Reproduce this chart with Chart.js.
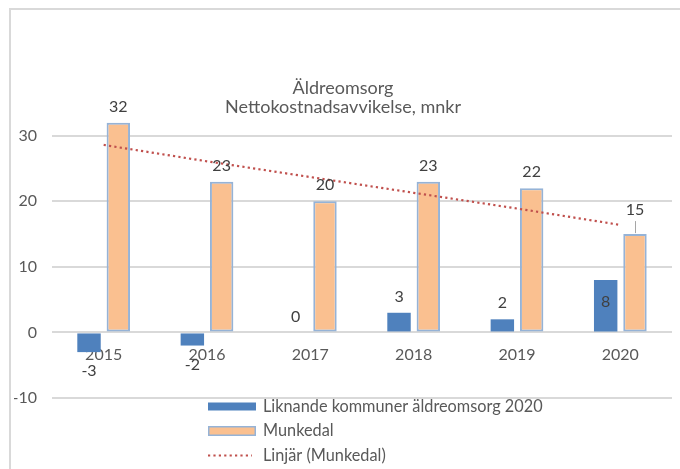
<!DOCTYPE html>
<html><head><meta charset="utf-8">
<script src="https://cdn.jsdelivr.net/npm/chart.js@4.4.1/dist/chart.umd.min.js"></script>
<style>
html,body{margin:0;padding:0;background:#fff;overflow:hidden;}
#wrap{position:relative;width:680px;height:469px;overflow:hidden;background:#fff;}
#frame{position:absolute;left:9px;top:8px;width:700px;height:500px;border-left:2px solid #D9D9D9;border-top:2px solid #D9D9D9;}
canvas{position:absolute;left:0;top:0;}
</style></head>
<body><div id="wrap"><div id="frame"></div><canvas id="c" width="680" height="469"></canvas></div>
<script>
// ---- data ----
const categories = ['2015', '2016', '2017', '2018', '2019', '2020'];
const liknandeValues = [-3, -2, 0, 3, 2, 8];
const munkedalValues = [32, 23, 20, 23, 22, 15];
const trendValues = [28.6, 26.1, 23.7, 21.3, 18.9, 16.4];
const seriesNames = ['Liknande kommuner äldreomsorg 2020', 'Munkedal', 'Linjär (Munkedal)'];
const titleLines = ['Äldreomsorg', 'Nettokostnadsavvikelse, mnkr'];
const yTickValues = [-10, 0, 10, 20, 30];

// label placement styles (not data)
const blueLabelInside = [false, false, false, false, false, true];
const orangeLabelCallout = [false, false, false, false, false, true];

const FONT = 'Lato';
Chart.defaults.font.family = FONT;

const barLabelPlugin = {
  id: 'barLabels',
  afterDatasetsDraw(chart) {
    const ctx = chart.ctx;
    ctx.save();
    ctx.font = '16px ' + FONT;
    ctx.fillStyle = '#404040';
    ctx.textAlign = 'center';
    ctx.textBaseline = 'middle';
    [0, 1].forEach(di => {
      const meta = chart.getDatasetMeta(di);
      const vals = chart.data.datasets[di].data;
      meta.data.forEach((el, i) => {
        const v = vals[i];
        const p = el.getProps(['x', 'y', 'base'], true);
        let ty;
        if (di === 0 && blueLabelInside[i]) {
          ty = (p.y + p.base) / 2 - 4;
        } else if (v < 0) {
          ty = p.y + 19;
        } else {
          ty = p.y - 16;
        }
        if (di === 1 && orangeLabelCallout[i]) {
          ty = p.y - 24;
          ctx.save();
          ctx.strokeStyle = '#A6A6A6';
          ctx.lineWidth = 1;
          ctx.beginPath();
          ctx.moveTo(Math.round(p.x) + 0.5, ty + 11);
          ctx.lineTo(Math.round(p.x) + 0.5, p.y - 1);
          ctx.stroke();
          ctx.restore();
        }
        ctx.fillText(String(v), p.x, ty);
      });
    });
    ctx.restore();
  }
};

const legendPlugin = {
  id: 'vlegend',
  afterDraw(chart) {
    const ctx = chart.ctx;
    const ds = chart.data.datasets;
    const x0 = 208, w = 48, tx = 263;
    const rows = [406.5, 431, 455.5];
    ctx.save();
    ctx.font = '16.3px ' + FONT;
    ctx.textBaseline = 'middle';
    ctx.textAlign = 'left';
    ctx.fillStyle = ds[0].backgroundColor;
    ctx.fillRect(x0, rows[0] - 4, w, 8);
    ctx.fillStyle = ds[1].backgroundColor;
    ctx.fillRect(x0, rows[1] - 5, w, 10);
    ctx.strokeStyle = ds[1].borderColor;
    ctx.lineWidth = 1.5;
    ctx.strokeRect(x0 + 0.75, rows[1] - 4.25, w - 1.5, 8.5);
    ctx.strokeStyle = ds[2].borderColor;
    ctx.lineWidth = ds[2].borderWidth;
    ctx.setLineDash(ds[2].borderDash);
    ctx.beginPath();
    ctx.moveTo(x0, rows[2]);
    ctx.lineTo(x0 + 44, rows[2]);
    ctx.stroke();
    ctx.setLineDash([]);
    ctx.fillStyle = '#595959';
    ds.forEach((d, i) => ctx.fillText(d.label, tx, rows[i]));
    ctx.restore();
  }
};

new Chart(document.getElementById('c'), {
  type: 'bar',
  data: {
    labels: categories,
    datasets: [
      { type: 'bar', label: seriesNames[0], data: liknandeValues, backgroundColor: '#4F81BD',
        borderWidth: 0, barPercentage: 0.8, categoryPercentage: 0.567, order: 1 },
      { type: 'bar', label: seriesNames[1], data: munkedalValues, backgroundColor: '#FAC090',
        borderColor: '#95B3D7', borderWidth: 2, borderSkipped: false,
        barPercentage: 0.8, categoryPercentage: 0.567, order: 1 },
      { type: 'line', label: seriesNames[2], data: trendValues, borderColor: '#C0504D',
        borderWidth: 2.2, borderDash: [2.2, 3.2], pointRadius: 0, fill: false, tension: 0, order: 0 }
    ]
  },
  options: {
    responsive: false,
    animation: false,
    devicePixelRatio: 1,
    layout: { padding: { left: 14, right: 8, top: 0, bottom: 71 } },
    plugins: {
      legend: { display: false },
      tooltip: { enabled: false },
      title: {
        display: true, text: titleLines, color: '#595959',
        font: { family: FONT, size: 18, weight: 'normal', lineHeight: 1.03 },
        padding: { top: 79, bottom: 0 }
      }
    },
    scales: {
      x: {
        position: { y: 0 },
        grid: { display: false, drawTicks: false },
        border: { display: false },
        ticks: { color: '#595959', font: { size: 16 }, padding: 13 }
      },
      y: {
        min: -10, max: 33,
        afterBuildTicks: s => { s.ticks = yTickValues.map(v => ({ value: v })); },
        afterFit: s => { s.width = 38; },
        grid: { color: '#D9D9D9', lineWidth: 2, drawTicks: false },
        border: { display: false },
        ticks: { color: '#595959', font: { size: 16 }, padding: 15 }
      }
    }
  },
  plugins: [barLabelPlugin, legendPlugin]
});
</script>
</body></html>
